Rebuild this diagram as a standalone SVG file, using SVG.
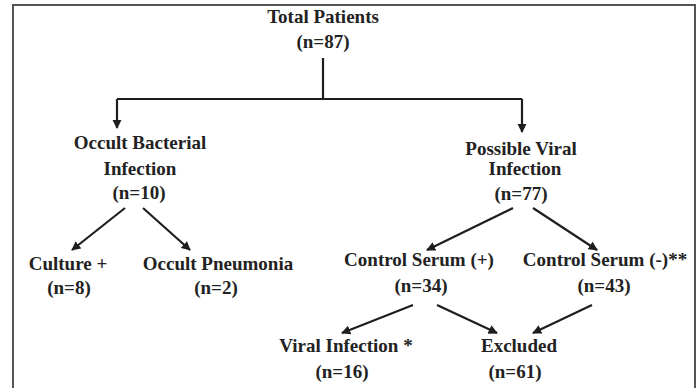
<svg xmlns="http://www.w3.org/2000/svg" width="699" height="388" viewBox="0 0 699 388">
<style>
text{font-family:"Liberation Serif","Times New Roman",serif;font-weight:bold;font-size:19px;fill:#222;text-anchor:middle}
.c{stroke:#1e1e1e;stroke-width:2.2;fill:none}
</style>
<defs>
<marker id="ah" viewBox="0 0 10 10" refX="9" refY="5" markerWidth="4.2" markerHeight="4.2" orient="auto" markerUnits="strokeWidth">
<path d="M0,0 L10,5 L0,10 Z" fill="#1e1e1e"/>
</marker>
</defs>
<rect x="13" y="5" width="682" height="400" fill="#fff" stroke="#555" stroke-width="2"/>
<g id="connectors">
<path class="c" d="M323,58 V99"/>
<path class="c" d="M117,99 H522"/>
<path class="c" d="M117,99 V128" marker-end="url(#ah)"/>
<path class="c" d="M522,99 V132" marker-end="url(#ah)"/>
<path class="c" d="M125,208 L72,250" marker-end="url(#ah)"/>
<path class="c" d="M143,208 L190,250" marker-end="url(#ah)"/>
<path class="c" d="M513,208 L427,250" marker-end="url(#ah)"/>
<path class="c" d="M533,208 L597,250" marker-end="url(#ah)"/>
<path class="c" d="M413,305 L342,333" marker-end="url(#ah)"/>
<path class="c" d="M437,305 L497,333" marker-end="url(#ah)"/>
<path class="c" d="M592,305 L533,333" marker-end="url(#ah)"/>
</g>
<g id="total"><text x="323" y="23">Total Patients</text><text x="323" y="48">(n=87)</text></g>
<g id="bacterial"><text x="140" y="149">Occult Bacterial</text><text x="140" y="175">Infection</text><text x="139" y="199">(n=10)</text></g>
<g id="viral"><text x="521" y="155">Possible Viral</text><text x="525" y="175">Infection</text><text x="521" y="200">(n=77)</text></g>
<g id="culture"><text x="68" y="270">Culture +</text><text x="69" y="294">(n=8)</text></g>
<g id="pneumonia"><text x="218" y="270">Occult Pneumonia</text><text x="216" y="294">(n=2)</text></g>
<g id="serumpos"><text x="419" y="266">Control Serum (+)</text><text x="421" y="292">(n=34)</text></g>
<g id="serumneg"><text x="605" y="266">Control Serum (-)**</text><text x="604" y="292">(n=43)</text></g>
<g id="viralinf"><text x="346" y="352">Viral Infection *</text><text x="342" y="378">(n=16)</text></g>
<g id="excluded"><text x="519" y="352">Excluded</text><text x="515" y="378">(n=61)</text></g>
</svg>
